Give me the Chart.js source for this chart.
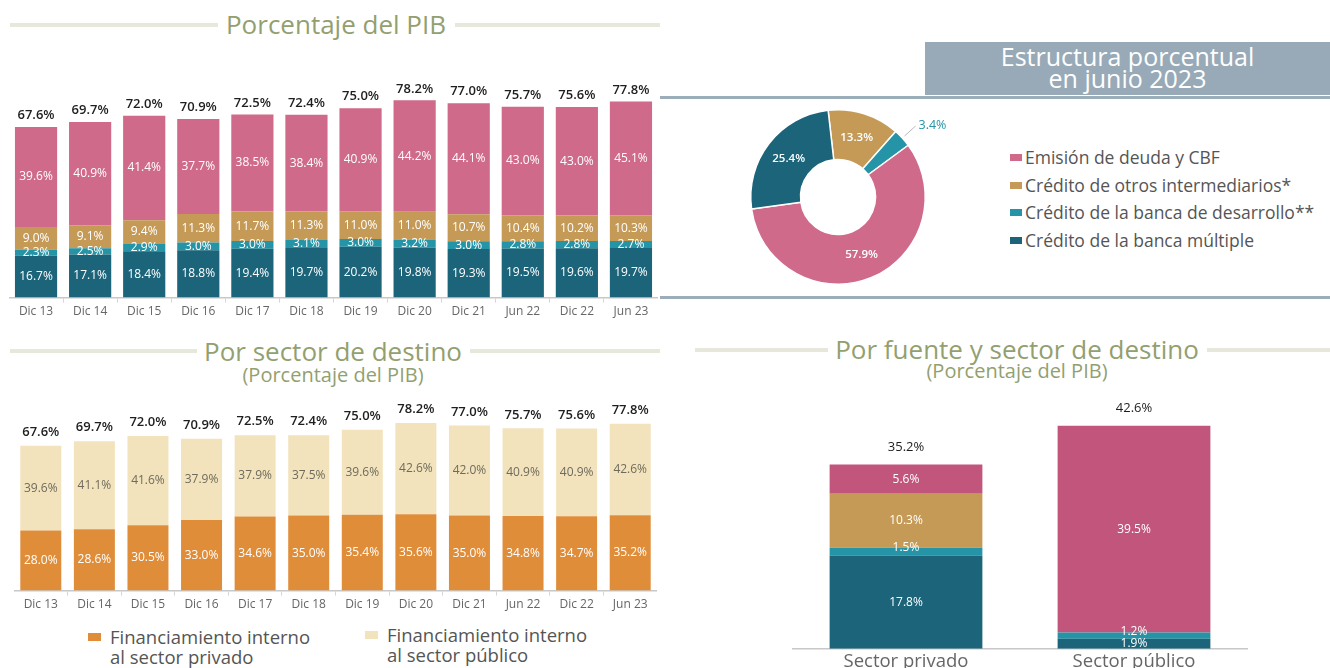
<!DOCTYPE html>
<html>
<head>
<meta charset="utf-8">
<script src="https://cdn.jsdelivr.net/npm/chart.js@4"></script>
<style>
  body{margin:0;width:1330px;height:668px;background:#fff;position:relative;overflow:hidden;font-family:"Open Sans",sans-serif;}
  canvas{position:absolute;}
  .rule{position:absolute;height:4px;background:#e7e7dc;}
  .title{position:absolute;color:#939f70;font-size:26px;line-height:1;white-space:nowrap;transform:translateX(-50%);}
  .sub{position:absolute;color:#939f70;font-size:20px;line-height:1;white-space:nowrap;transform:translateX(-50%);}
  .hdr{position:absolute;left:925px;top:42px;width:405px;height:53px;background:#98aab7;color:#fff;font-size:25px;line-height:22px;text-align:center;padding-top:3px;box-sizing:border-box;}
  .bline{position:absolute;left:660px;width:670px;height:3px;background:#9badb9;}
  .leg{position:absolute;color:#555;line-height:20px;white-space:nowrap;}
  .leg i{position:absolute;left:0;width:12px;height:7px;}
</style>
</head>
<body>
<div class="rule" style="left:10px;top:23px;width:208px"></div>
<div class="rule" style="left:455px;top:23px;width:205px"></div>
<div class="title" style="left:336px;top:11px">Porcentaje del PIB</div>

<div class="hdr">Estructura porcentual<br>en junio 2023</div>
<div class="bline" style="top:96px"></div>
<div class="bline" style="top:296px"></div>

<div class="rule" style="left:10px;top:349px;width:187px"></div>
<div class="rule" style="left:470px;top:349px;width:190px"></div>
<div class="title" style="left:333px;top:338px">Por sector de destino</div>
<div class="sub" style="left:333px;top:365px">(Porcentaje del PIB)</div>

<div class="rule" style="left:695px;top:348px;width:133px"></div>
<div class="rule" style="left:1207px;top:348px;width:123px"></div>
<div class="title" style="left:1017px;top:336px">Por fuente y sector de destino</div>
<div class="sub" style="left:1017px;top:361px">(Porcentaje del PIB)</div>

<canvas id="c1" width="649" height="271" style="left:9px;top:50px"></canvas>
<canvas id="c2" width="300" height="196" style="left:700px;top:100px"></canvas>
<canvas id="c3" width="643" height="234" style="left:14px;top:380px"></canvas>
<canvas id="c4" width="456" height="295" style="left:792px;top:380px"></canvas>
<div id="leg2"></div>
<div id="leg3"></div>

<script>
// periods
const periods = ["Dic 13","Dic 14","Dic 15","Dic 16","Dic 17","Dic 18","Dic 19","Dic 20","Dic 21","Jun 22","Dic 22","Jun 23"];
const totals = [67.6,69.7,72.0,70.9,72.5,72.4,75.0,78.2,77.0,75.7,75.6,77.8];

// Porcentaje del PIB, por fuente (bottom to top)
const bancaMultiple = [16.7,17.1,18.4,18.8,19.4,19.7,20.2,19.8,19.3,19.5,19.6,19.7];
const bancaDesarrollo = [2.3,2.5,2.9,3.0,3.0,3.1,3.0,3.2,3.0,2.8,2.8,2.7];
const otrosIntermediarios = [9.0,9.1,9.4,11.3,11.7,11.3,11.0,11.0,10.7,10.4,10.2,10.3];
const emisionDeuda = [39.6,40.9,41.4,37.7,38.5,38.4,40.9,44.2,44.1,43.0,43.0,45.1];

// Estructura junio 2023
const donutLabels = ["Emisión de deuda y CBF","Crédito de otros intermediarios*","Crédito de la banca de desarrollo**","Crédito de la banca múltiple"];
const donutValues = [57.9,13.3,3.4,25.4];

// Por sector de destino
const sectorPrivado = [28.0,28.6,30.5,33.0,34.6,35.0,35.4,35.6,35.0,34.8,34.7,35.2];
const sectorPublico = [39.6,41.1,41.6,37.9,37.9,37.5,39.6,42.6,42.0,40.9,40.9,42.6];
const sectorLabels = ["Financiamiento interno<br>al sector privado","Financiamiento interno<br>al sector público"];

// Por fuente y sector de destino
const destinos = ["Sector privado","Sector público"];
const destMultiple = [17.8,1.9];
const destDesarrollo = [1.5,1.2];
const destOtros = [10.3,0];
const destEmision = [5.6,39.5];
const destTotals = [35.2,42.6];

const C = {dark:"#1b6479", teal:"#2594a6", gold:"#c59a56", pink:"#cf6a8a", pink2:"#c1557b", orange:"#e08d3a", cream:"#f2e3bc"};
const FONT = '"Open Sans", sans-serif';
Chart.defaults.font.family = FONT;

const segLabels = {
  id:"segLabels",
  afterDatasetsDraw(chart, args, opts){
    const ctx = chart.ctx;
    ctx.save();
    ctx.textAlign = "center"; ctx.textBaseline = "middle";
    chart.data.datasets.forEach((ds, i) => {
      const meta = chart.getDatasetMeta(i);
      ctx.font = opts.font; ctx.fillStyle = opts.colors[i];
      meta.data.forEach((el, j) => {
        const v = ds.data[j]; if(!v) return;
        const dy = (opts.shift && opts.shift[i]) || 0;
        ctx.fillText(v.toFixed(1)+"%", el.x, (el.y+el.base)/2 + dy);
      });
    });
    const last = chart.getDatasetMeta(chart.data.datasets.length-1);
    ctx.font = opts.totalFont; ctx.fillStyle = "#1e1e1e"; ctx.textBaseline = "bottom";
    last.data.forEach((el, j) => ctx.fillText(opts.totals[j].toFixed(1)+"%", el.x, el.y - opts.gap));
    ctx.restore();
  }
};

const xAxis = (size, ticks) => ({
  stacked:true,
  grid:{display:ticks, drawOnChartArea:false, offset:true, drawTicks:ticks, tickLength:5, color:"#d6d6d6"},
  border:{display:true, color:"#c8c8c8", width:1.5},
  ticks:{color:"#666", font:{size:size}, padding:2}
});

// Chart 1: porcentaje del PIB
new Chart(document.getElementById("c1").getContext("2d"), {
  type:"bar",
  data:{labels:periods, datasets:[
    {data:bancaMultiple, backgroundColor:C.dark},
    {data:bancaDesarrollo, backgroundColor:C.teal},
    {data:otrosIntermediarios, backgroundColor:C.gold},
    {data:emisionDeuda, backgroundColor:C.pink}
  ]},
  options:{
    responsive:false, animation:false,
    layout:{padding:{top:8}},
    datasets:{bar:{barPercentage:0.78, categoryPercentage:1}},
    plugins:{legend:{display:false}, tooltip:{enabled:false},
      segLabels:{font:'500 12px '+FONT, totalFont:'600 13px '+FONT, colors:["#fff","#fff","#fff","#fff"], totals:totals, gap:5}},
    scales:{x:xAxis(12,true), y:{stacked:true, display:false, min:0, max:95}}
  },
  plugins:[segLabels]
});

// Chart 2: estructura porcentual (clockwise from top: otros, desarrollo, emision, multiple)
const ring = [1,2,0,3];
new Chart(document.getElementById("c2").getContext("2d"), {
  type:"doughnut",
  data:{labels:ring.map(i=>donutLabels[i]), datasets:[{
    data:ring.map(i=>donutValues[i]),
    backgroundColor:[C.gold,C.teal,C.pink,C.dark],
    borderColor:"#fff", borderWidth:1.5
  }]},
  options:{
    responsive:false, animation:false, cutout:"43%", rotation:-6.5,
    layout:{padding:{left:0,right:24,top:9,bottom:11}},
    plugins:{legend:{display:false}, tooltip:{enabled:false}}
  },
  plugins:[{
    id:"donutText",
    afterDatasetsDraw(chart){
      const ctx = chart.ctx, meta = chart.getDatasetMeta(0), vals = chart.data.datasets[0].data;
      ctx.save(); ctx.textBaseline = "middle";
      meta.data.forEach((el, i) => {
        const p = el.getProps(["x","y","startAngle","endAngle","innerRadius","outerRadius"], true);
        const a = (p.startAngle+p.endAngle)/2, v = vals[i];
        if(v < 5){
          const x1 = p.x+Math.cos(a)*(p.outerRadius+3), y1 = p.y+Math.sin(a)*(p.outerRadius+3);
          const x2 = x1+11, y2 = y1-10;
          ctx.strokeStyle = "#b8b8b8"; ctx.lineWidth = 1;
          ctx.beginPath(); ctx.moveTo(x1,y1); ctx.lineTo(x2,y2); ctx.stroke();
          ctx.fillStyle = C.teal; ctx.textAlign = "left"; ctx.font = '500 12.5px '+FONT;
          ctx.fillText(v.toFixed(1)+"%", x2+3, y2-1);
        } else {
          const r = (p.innerRadius+p.outerRadius)/2;
          ctx.fillStyle = "#fff"; ctx.textAlign = "center"; ctx.font = '600 11.5px '+FONT;
          ctx.fillText(v.toFixed(1)+"%", p.x+Math.cos(a)*r, p.y+Math.sin(a)*r);
        }
      });
      ctx.restore();
    }
  }]
});

// legend for chart 2
const legColors = [C.pink, C.gold, C.teal, C.dark];
document.getElementById("leg2").innerHTML = donutLabels.map((t,i) =>
  `<div class="leg" style="left:1010px;top:${147+i*27.7}px;padding-left:15px;font-size:17.5px"><i style="top:7px;background:${legColors[i]}"></i>${t}</div>`).join("");

// Chart 3: por sector de destino
new Chart(document.getElementById("c3").getContext("2d"), {
  type:"bar",
  data:{labels:periods, datasets:[
    {data:sectorPrivado, backgroundColor:C.orange},
    {data:sectorPublico, backgroundColor:C.cream}
  ]},
  options:{
    responsive:false, animation:false,
    layout:{padding:{top:7}},
    datasets:{bar:{barPercentage:0.765, categoryPercentage:1}},
    plugins:{legend:{display:false}, tooltip:{enabled:false},
      segLabels:{font:'500 12px '+FONT, totalFont:'600 13px '+FONT, colors:["#fff","#6e6b5c"], totals:totals, gap:7}},
    scales:{x:xAxis(12,true), y:{stacked:true, display:false, min:0, max:95}}
  },
  plugins:[segLabels]
});

document.getElementById("leg3").innerHTML = sectorLabels.map((t,i) =>
  `<div class="leg" style="left:${[88,365][i]}px;top:${[627,625][i]}px;padding-left:22px;font-size:18.5px"><i style="top:6px;width:13px;height:8px;background:${[C.orange,C.cream][i]}"></i>${t}</div>`).join("");

// Chart 4: por fuente y sector de destino
new Chart(document.getElementById("c4").getContext("2d"), {
  type:"bar",
  data:{labels:destinos, datasets:[
    {data:destMultiple, backgroundColor:C.dark},
    {data:destDesarrollo, backgroundColor:C.teal},
    {data:destOtros, backgroundColor:C.gold},
    {data:destEmision, backgroundColor:C.pink2}
  ]},
  options:{
    responsive:false, animation:false,
    layout:{padding:{top:7}},
    datasets:{bar:{barPercentage:0.67, categoryPercentage:1}},
    plugins:{legend:{display:false}, tooltip:{enabled:false},
      segLabels:{font:'500 12px '+FONT, totalFont:'500 13px '+FONT, colors:["#fff","#fff","#fff","#fff"], totals:destTotals, gap:11, shift:[0,-4,0,0]}},
    scales:{x:xAxis(18.5,false), y:{stacked:true, display:false, min:0, max:50}}
  },
  plugins:[segLabels]
});
</script>
</body>
</html>
